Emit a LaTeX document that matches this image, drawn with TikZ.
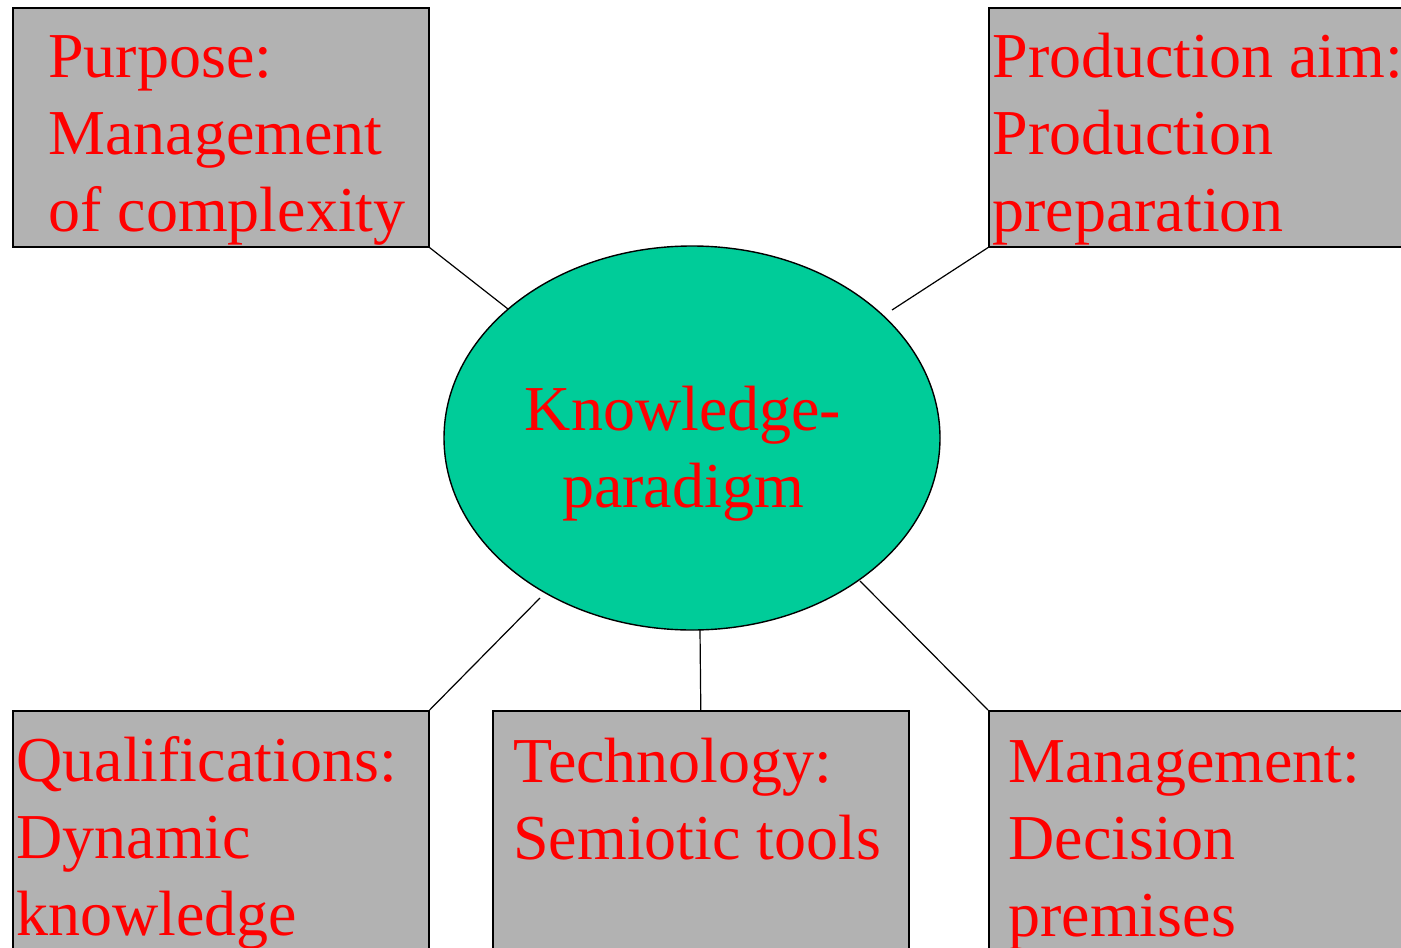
\documentclass[tikz,border=0pt]{standalone}
\usepackage{fontspec}
\setmainfont{Liberation Serif}
\usepackage{xcolor}
\usepackage{tikz}
\usetikzlibrary{shapes.geometric}
\definecolor{boxgray}{HTML}{B2B2B2}
\definecolor{kpgreen}{HTML}{00CC99}
\definecolor{labred}{HTML}{FF0000}
\newcommand{\bstrut}{\rule{0pt}{30pt}}
\tikzset{
  box/.style={draw=black, fill=boxgray, line width=0.8pt, inner sep=0pt,
    anchor=north west, minimum width=208pt},
  kpnode/.style={ellipse, draw=black, fill=kpgreen, line width=0.7pt,
    inner sep=0pt, minimum width=248pt, minimum height=192pt},
  lab/.style={text=labred, inner sep=0pt, font=\fontsize{32pt}{38.5pt}\selectfont},
  link/.style={draw=black, line width=0.6pt}
}
\begin{document}
\begin{tikzpicture}[x=0.5pt, y=-0.5pt]
  \useasboundingbox (0,0) rectangle (1401,947);
  \clip (0,0) rectangle (1401,947);

  \node[box, minimum height=119.5pt] (purpose) at (12,7) {};
  \node[box, minimum height=119.5pt] (aim) at (988,7) {};
  \node[box, minimum height=125pt] (qual) at (12,710) {};
  \node[box, minimum height=125pt] (tech) at (492,710) {};
  \node[box, minimum height=125pt] (mgmt) at (988,710) {};
  \node[kpnode] (kp) at (692,438) {};

  % line ends near the ellipse
  \coordinate (kpnw) at (508,309);
  \coordinate (kpne) at (892,310);
  \coordinate (kpsw) at (540,598);
  \coordinate (kps) at (700,630);
  \coordinate (kpse) at (860,581);

  \draw[link] (purpose.south east) -- (kpnw);
  \draw[link] (aim.south west) -- (kpne);
  \draw[link] (qual.north east) -- (kpsw);
  \draw[link] (tech.north) -- (kps);
  \draw[link] (mgmt.north west) -- (kpse);

  \node[lab, anchor=north west, align=left] (purposetxt) at (48,17)
    {\bstrut Purpose:\\Management\\of complexity};
  \node[lab, anchor=north west, align=left] (aimtxt) at (992,17)
    {\bstrut Production aim:\\Production\\preparation};
  \node[lab, anchor=north west, align=left] (qualtxt) at (16,721)
    {\bstrut Qualifications:\\Dynamic\\knowledge};
  \node[lab, anchor=north west, align=left] (techtxt) at (513,722)
    {\bstrut Technology:\\Semiotic tools};
  \node[lab, anchor=north west, align=left] (mgmttxt) at (1008,722)
    {\bstrut Management:\\Decision\\premises};
  \node[lab, anchor=north, align=center] (kptxt) at (683,370)
    {\bstrut Knowledge-\\paradigm};
\end{tikzpicture}
\end{document}
